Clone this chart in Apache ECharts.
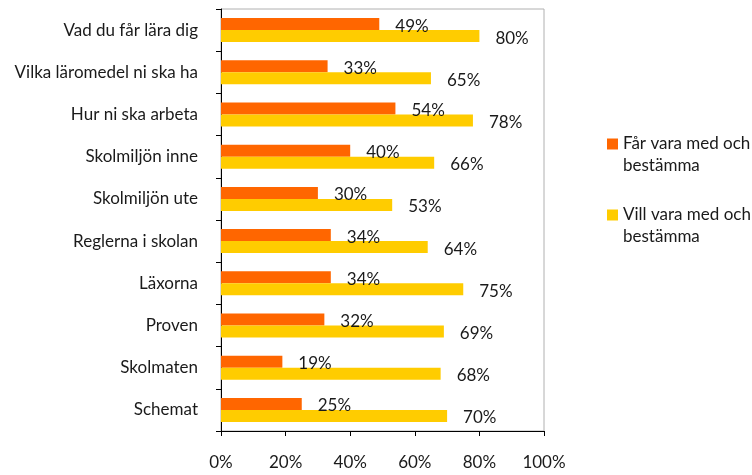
<!DOCTYPE html>
<html>
<head>
<meta charset="utf-8">
<script src="https://cdn.jsdelivr.net/npm/echarts@6/dist/echarts.min.js"></script>
<style>
  html, body { margin: 0; padding: 0; background: #fff; }
  #main { width: 752px; height: 475px; }
</style>
</head>
<body>
<div id="main"></div>
<script>
// kategorier, uppifrån och ned
var categories = ['Vad du får lära dig', 'Vilka läromedel ni ska ha', 'Hur ni ska arbeta',
  'Skolmiljön inne', 'Skolmiljön ute', 'Reglerna i skolan', 'Läxorna', 'Proven',
  'Skolmaten', 'Schemat'];
var farVara = [49, 33, 54, 40, 30, 34, 34, 32, 19, 25];   // Får vara med och bestämma
var villVara = [80, 65, 78, 66, 53, 64, 75, 69, 68, 70];  // Vill vara med och bestämma
var xTicks = [0, 20, 40, 60, 80, 100];

var font = 'Lato, "Open Sans", sans-serif';
var txt = '#1a1a1a';
var chart = echarts.init(document.getElementById('main'));

var labelCfg = {
  show: true,
  position: 'right',
  distance: 16,
  offset: [0, 2],
  color: txt,
  fontSize: 17,
  fontFamily: font,
  formatter: '{c}%'
};

chart.setOption({
  animation: false,
  grid: {
    left: 221, right: 208, top: 9, bottom: 44,
    show: true, borderColor: '#b0b0b0', borderWidth: 1
  },
  legend: {
    orient: 'vertical',
    left: 602, top: 106,
    itemWidth: 11, itemHeight: 11, itemGap: 5,
    icon: 'rect',
    // tom rad överst så att rutan hamnar vid första textraden
    formatter: function (name) { return ' \n' + name; },
    textStyle: { fontSize: 17, fontFamily: font, color: txt, lineHeight: 22 },
    data: [
      { name: 'Får vara med och\nbestämma' },
      { name: 'Vill vara med och\nbestämma' }
    ]
  },
  xAxis: {
    type: 'value',
    min: xTicks[0], max: xTicks[xTicks.length - 1], interval: 20,
    axisLine: { show: true, lineStyle: { color: '#000' } },
    axisTick: { show: true, length: 5, lineStyle: { color: '#000' } },
    splitLine: { show: false },
    axisLabel: { formatter: '{value}%', fontSize: 17, fontFamily: font, color: txt, margin: 23 }
  },
  yAxis: {
    type: 'category',
    inverse: true,
    data: categories,
    axisLine: { show: true, lineStyle: { color: '#000' } },
    axisTick: { show: true, length: 5, lineStyle: { color: '#000' } },
    axisLabel: { fontSize: 17, fontFamily: font, color: txt, margin: 23 }
  },
  series: [
    {
      name: 'Får vara med och\nbestämma',
      type: 'bar',
      data: farVara,
      barWidth: 12,
      barGap: '0%',
      itemStyle: { color: '#ff6600' },
      label: labelCfg
    },
    {
      name: 'Vill vara med och\nbestämma',
      type: 'bar',
      data: villVara,
      barWidth: 12,
      itemStyle: { color: '#ffcc00' },
      label: labelCfg
    }
  ]
});
</script>
</body>
</html>
